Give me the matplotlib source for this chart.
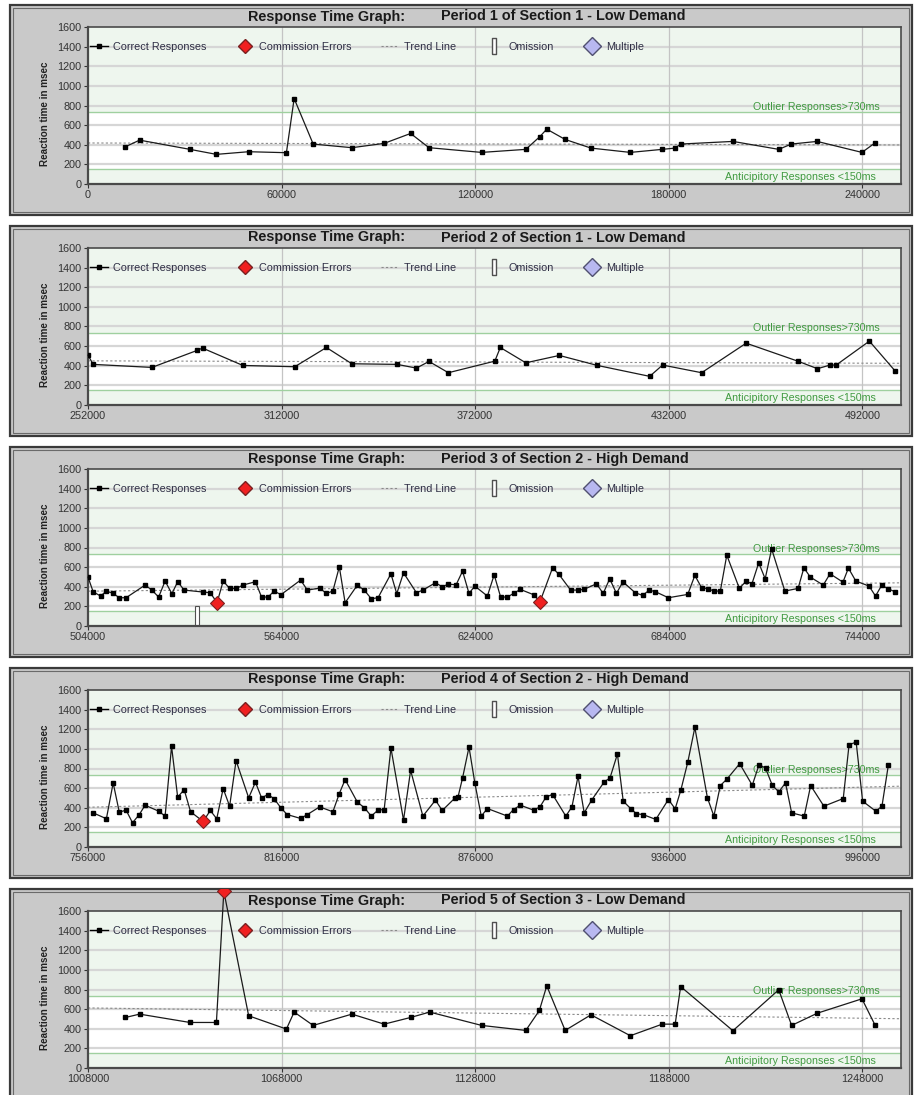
import numpy as np
import matplotlib
matplotlib.use('Agg')
from matplotlib import pyplot as plt
from matplotlib.patches import Rectangle
from matplotlib.lines import Line2D
import matplotlib.transforms as mtransforms

plt.rcParams['font.family'] = ['Liberation Sans', 'DejaVu Sans']

# period info
period_titles = ['Period 1 of Section 1 - Low Demand',
                 'Period 2 of Section 1 - Low Demand',
                 'Period 3 of Section 2 - High Demand',
                 'Period 4 of Section 2 - High Demand',
                 'Period 5 of Section 3 - Low Demand']
period_start = [0, 252000, 504000, 756000, 1008000]
period_len = 252000
y_ticks = [0, 200, 400, 600, 800, 1000, 1200, 1400, 1600]

# correct responses (time ms, reaction ms)
p1_t = [11600, 16000, 31600, 39800, 49800, 61500, 63900, 69800, 81800, 91800, 100000, 105700,
        122000, 135700, 140000, 142200, 147900, 155900, 168100, 178000, 182000, 183700, 199900,
        214100, 218000, 226000, 239900, 244000]
p1_rt = [380, 447, 353, 302, 329, 319, 871, 407, 370, 414, 515, 370,
         322, 353, 481, 559, 454, 366, 322, 353, 366, 407, 434,
         353, 407, 434, 322, 420]

p2_t = [252000, 253600, 271800, 285800, 287500, 300000, 316100, 325900, 333800, 347800, 353800,
        357700, 363700, 378100, 379800, 387700, 398100, 409900, 426100, 430100, 442200, 456000,
        472000, 478100, 482000, 483900, 494200, 502200]
p2_rt = [508, 414, 383, 556, 580, 403, 390, 586, 420, 414, 376,
         444, 329, 447, 586, 430, 505, 403, 292, 407, 329, 630,
         447, 370, 407, 407, 651, 346]

p3_t = [504000, 505600, 507900, 509700, 511800, 513700, 515800, 521700, 523800, 525900, 527900,
        530000, 531800, 533800, 539700, 541900, 545900, 547900, 550000, 552000, 555900, 557800,
        559800, 561700, 563800, 569900, 572000, 575800, 577900, 579900, 581900, 583700, 587500,
        589700, 591800, 593900, 597900, 599700, 601800, 605800, 607800, 611700, 613800, 615700,
        618100, 620100, 622100, 623900, 627800, 629900, 631900, 634000, 635900, 638000, 642100,
        648000, 650000, 653600, 655900, 657700, 661600, 663700, 665700, 667800, 669800, 673600,
        675900, 678000, 679900, 683900, 689900, 692100, 694200, 696200, 698000, 700000, 702000,
        705900, 708000, 709800, 711900, 713900, 715900, 720000, 724100, 725900, 727900, 731900,
        734000, 738000, 739700, 742000, 746100, 748100, 750000, 752000, 754100]
p3_rt = [498, 349, 305, 356, 332, 288, 288, 417, 366, 295, 458,
         329, 451, 366, 346, 339, 458, 383, 383, 417, 451, 295,
         295, 356, 319, 468, 366, 386, 332, 356, 603, 237, 417,
         363, 278, 288, 532, 329, 542, 339, 366, 441, 400, 427,
         420, 559, 332, 407, 305, 522, 295, 295, 332, 373, 319,
         593, 525, 366, 366, 373, 430, 332, 481, 332, 451, 339,
         312, 366, 349, 288, 322, 515, 390, 380, 356, 356, 722,
         383, 458, 430, 644, 481, 786, 356, 383, 593, 498, 417,
         532, 447, 590, 458, 407, 305, 414, 380, 349]

p4_t = [757600, 761700, 763800, 765700, 767800, 769800, 771900, 773700, 777900, 779900, 781900,
        783800, 785800, 787800, 793900, 795900, 797900, 799900, 801900, 805800, 807900, 809800,
        811800, 813700, 815800, 817700, 821900, 824000, 827800, 831900, 833900, 835700, 839500,
        841700, 843800, 845900, 847800, 849900, 853800, 856000, 859800, 863700, 865800, 869800,
        870700, 872100, 874100, 875900, 877900, 879800, 886000, 887900, 890000, 894100, 896100,
        898000, 900000, 904100, 906000, 907900, 909800, 912100, 916000, 917800, 920100, 921900,
        924200, 926000, 928000, 932000, 935900, 938000, 939800, 941900, 944100, 948000, 950000,
        952000, 954100, 958000, 961900, 964000, 966000, 968100, 970100, 972200, 974100, 978000,
        980000, 984100, 990100, 991900, 994100, 996100, 1000200, 1002100, 1004100]
p4_rt = [348, 288, 653, 355, 376, 247, 331, 426, 365, 315, 1025,
         507, 585, 359, 372, 288, 595, 416, 880, 501, 660, 501,
         535, 491, 399, 331, 291, 331, 409, 359, 545, 687, 457,
         399, 315, 376, 382, 1008, 274, 781, 315, 477, 372, 501,
         511, 704, 1018, 653, 315, 392, 315, 382, 426, 376, 409,
         511, 535, 315, 409, 721, 348, 477, 663, 704, 947, 467,
         392, 338, 331, 281, 484, 389, 585, 863, 1218, 501, 315,
         626, 694, 849, 629, 839, 805, 629, 562, 653, 348, 315,
         626, 416, 494, 1042, 1069, 467, 365, 416, 839]

p5_t = [1019600, 1024000, 1039600, 1047800, 1057800, 1069500, 1071900, 1077800, 1089800,
        1099800, 1108000, 1113900, 1130000, 1143700, 1147900, 1150200, 1155900, 1163900,
        1176100, 1186000, 1190000, 1191700, 1207900, 1222100, 1226100, 1234100, 1247900, 1252000]
p5_rt = [515, 549, 464, 464, 532, 397, 570, 434, 549,
         447, 515, 570, 434, 383, 586, 837, 383, 542,
         329, 447, 447, 830, 380, 797, 434, 559, 705, 434]

# commission errors
err_t = [[], [], [544000, 644100], [791700], [1050100]]
err_rt = [[], [], [237, 247], [260], [1800]]

# omissions
omit_t = [[], [], [537700], [], []]
omit_h = [[], [], [200], [], []]

# trend line end values
trend_a = [418, 450, 355, 405, 612]
trend_b = [398, 425, 440, 620, 502]

resp_t = [p1_t, p2_t, p3_t, p4_t, p5_t]
resp_rt = [p1_rt, p2_rt, p3_rt, p4_rt, p5_rt]

W, H = 914, 1095
fig = plt.figure(figsize=(W / 100, H / 100), dpi=100)

green_txt = '#3f9a3f'
omit_marker = [(-0.22, -1), (0.22, -1), (0.22, 1), (-0.22, 1), (-0.22, -1)]

for i in range(5):
    top = 5 + i * 221
    # gray frame round each chart
    frame = Rectangle((10 / W, 1 - (top + 210) / H), 902 / W, 210 / H,
                      transform=fig.transFigure, facecolor='#c9c9c9',
                      edgecolor='#3a3a3a', lw=1.6, zorder=-10)
    fig.patches.append(frame)
    fig.patches.append(Rectangle((13 / W, 1 - (top + 207) / H), 896 / W, 204 / H,
                                 transform=fig.transFigure, facecolor='none',
                                 edgecolor='#6a6a6a', lw=0.8, zorder=-9))
    fig.text(248 / W, 1 - (top + 15.5) / H, 'Response Time Graph:', fontsize=10.4,
             fontweight='bold', va='baseline', ha='left', color='#1a1a1a')
    fig.text(441 / W, 1 - (top + 15.5) / H, period_titles[i], fontsize=10.4,
             fontweight='bold', va='baseline', ha='left', color='#1a1a1a')

    ax = fig.add_axes([88 / W, 1 - (top + 179) / H, 813 / W, 157 / H])
    x0 = period_start[i]
    x1 = x0 + period_len
    ax.set_xlim(x0, x1)
    ax.set_ylim(0, 1600)
    ax.set_facecolor('#eef6ee')
    ax.axhspan(150, 730, color='white', zorder=0.5)
    for yv in y_ticks[1:-1]:
        ax.axhline(yv, color='#d6d6d6', lw=1.6, zorder=0.8)
    xt = [x0 + k * 60000 for k in range(5)]
    for xv in xt[1:]:
        ax.axvline(xv, color='#c4c4c4', lw=0.9, zorder=0.8)
    ax.axhline(150, color='#9fd09f', lw=1.0, zorder=0.9)
    ax.axhline(730, color='#9fd09f', lw=1.0, zorder=0.9)

    ax.set_xticks(xt)
    ax.set_xticklabels([str(v) for v in xt])
    ax.set_yticks(y_ticks)
    ax.tick_params(axis='both', labelsize=7.8, colors='#333333', length=3, width=0.8, pad=1.5)
    for s in ax.spines.values():
        s.set_color('#4a4a4a')
        s.set_linewidth(1.2)
    ax.spines['left'].set_linewidth(1.6)
    ax.spines['bottom'].set_linewidth(1.6)

    ax.set_ylabel('Reaction time in msec', fontsize=7.1, fontweight='bold', color='#222222')
    ax.yaxis.set_label_coords(-0.047, 0.45)

    trans = mtransforms.blended_transform_factory(ax.transAxes, ax.transData)
    ax.text(0.974, 782, 'Outlier Responses>730ms', transform=trans, ha='right',
            va='center', fontsize=7.7, color=green_txt, zorder=3)
    ax.text(0.969, 71, 'Anticipitory Responses <150ms', transform=trans, ha='right',
            va='center', fontsize=7.7, color=green_txt, zorder=3)

    # trend
    ax.plot([x0, x1], [trend_a[i], trend_b[i]], color='#8a8a8a', lw=0.8,
            ls=(0, (2, 2)), zorder=2)

    # omissions
    if omit_t[i]:
        ax.bar(omit_t[i], omit_h[i], width=1200, color='white', edgecolor='#505050',
               lw=0.8, zorder=2.5)

    # all responses joined by the line, allowed to run past the top up to the frame
    t_all = np.array(resp_t[i] + err_t[i])
    rt_all = np.array(resp_rt[i] + err_rt[i])
    order = np.argsort(t_all)
    ln, = ax.plot(t_all[order], rt_all[order], color='#1a1a1a', lw=0.9, zorder=3)
    ln.set_clip_path(frame)
    if err_t[i]:
        em, = ax.plot(err_t[i], err_rt[i], ls='none', marker='D', ms=7, mfc='#f02020',
                      mec='#7a2020', mew=0.8, zorder=4)
        em.set_clip_path(frame)
    ax.plot(resp_t[i], resp_rt[i], ls='none', marker='s', ms=3, color='black', zorder=5)

    handles = [Line2D([], [], color='black', lw=1, marker='s', ms=3),
               Line2D([], [], ls='none', marker='D', ms=7, mfc='#f02020', mec='#7a2020'),
               Line2D([], [], color='#8a8a8a', lw=0.8, ls=(0, (2, 2))),
               Line2D([], [], ls='none', marker=omit_marker, ms=12, mfc='white', mec='#505050'),
               Line2D([], [], ls='none', marker='D', ms=9, mfc='#b8b8f0', mec='#505070')]
    labels = ['Correct Responses', 'Commission Errors', 'Trend Line', 'Omission', 'Multiple']
    leg = ax.legend(handles, labels, ncol=5, loc='center left', bbox_to_anchor=(0.0, 0.875),
                    frameon=False, fontsize=7.8, handlelength=1.6, handletextpad=0.5,
                    columnspacing=2.75, borderaxespad=0, borderpad=0.2)
    for t in leg.get_texts():
        t.set_color('#2e2e44')

fig.savefig('out.png', dpi=100)
